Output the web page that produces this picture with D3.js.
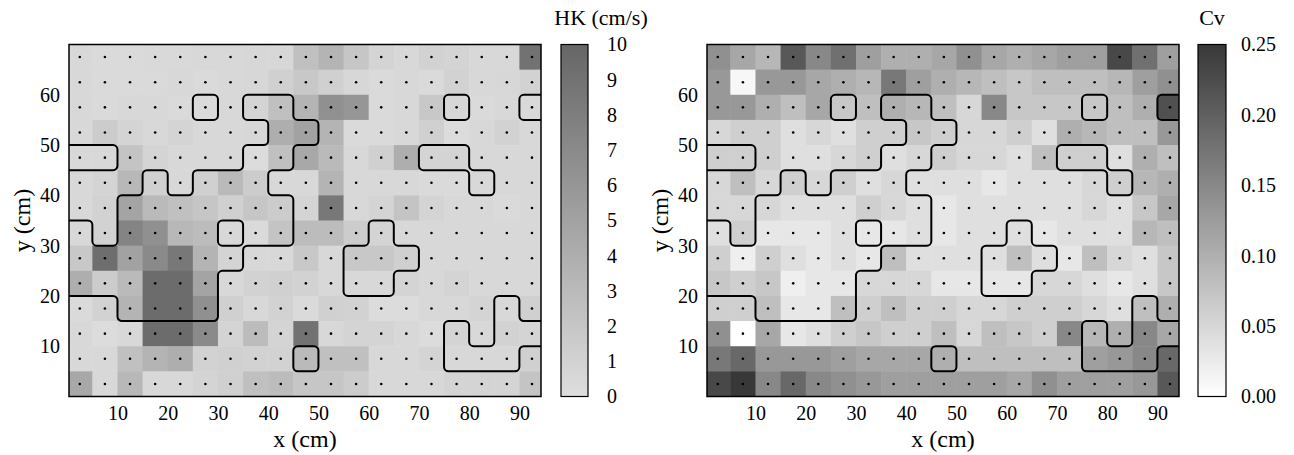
<!DOCTYPE html>
<html>
<head>
<meta charset="utf-8">
<script src="https://cdn.jsdelivr.net/npm/d3@7"></script>
<style>
  body { margin: 0; background: #fff; }
</style>
</head>
<body>
<svg id="chart" width="1294" height="455"></svg>
<script>
// grid: 19 columns x 14 rows of 5 cm cells, rows listed top (65-70 cm) to bottom (0-5 cm)
var nCols = 19, nRows = 14, cellSize = 5;
var serif = '"Liberation Serif", "DejaVu Serif", "Times New Roman", serif';

var xTicks = [10, 20, 30, 40, 50, 60, 70, 80, 90];
var yTicks = [10, 20, 30, 40, 50, 60];
var hkTicks = [0, 1, 2, 3, 4, 5, 6, 7, 8, 9, 10];
var cvTicks = [0, 0.05, 0.10, 0.15, 0.20, 0.25];

var hkRows = [
  [0.5,0.3,0.3,0.4,0.4,0.5,0.5,0.6,0.6,2.5,3.5,2.0,0.8,0.5,1.0,0.8,0.5,0.5,9.0],
  [0.5,0.3,0.3,0.3,0.5,0.3,0.5,0.6,1.2,1.8,1.2,0.6,0.3,0.5,0.3,1.0,0.5,0.6,1.0],
  [0.5,0.3,0.5,0.5,0.3,0.3,0.5,0.8,2.5,3.5,6.5,6.0,0.3,0.5,1.8,0.6,0.3,0.5,0.4],
  [0.5,1.5,0.8,0.5,0.8,0.5,0.5,0.6,4.0,5.0,3.5,0.3,0.3,0.5,1.2,0.2,0.5,1.0,0.5],
  [0.5,0.5,2.2,0.8,0.5,0.5,0.5,0.2,2.5,4.5,3.0,0.5,1.2,4.0,0.8,0.8,0.5,0.5,0.5],
  [0.5,0.8,3.2,1.2,0.5,1.2,3.0,1.5,0.5,0.5,3.5,0.5,0.5,0.5,0.3,0.3,0.5,0.5,0.5],
  [0.5,1.0,4.8,3.0,2.5,2.0,1.2,2.0,1.5,0.8,8.5,0.5,0.8,2.2,0.8,0.5,0.5,0.3,0.5],
  [0.5,1.0,7.5,6.5,3.2,2.8,0.5,0.3,2.2,2.8,2.8,1.5,0.8,0.5,0.5,0.5,0.5,0.5,0.5],
  [1.8,9.3,5.0,7.0,8.5,3.5,0.8,0.5,0.5,1.8,0.5,1.8,1.8,1.2,0.5,0.5,0.5,0.5,0.5],
  [4.0,1.5,3.0,9.5,9.5,4.8,0.5,1.0,1.2,1.0,0.5,0.5,0.5,0.8,0.5,0.8,0.5,0.5,0.5],
  [0.3,1.0,3.5,9.5,9.5,6.5,1.2,0.5,1.0,0.3,1.2,1.0,0.2,0.2,0.5,0.5,0.8,0.5,1.2],
  [0.5,0.2,0.5,9.5,9.5,7.0,0.8,2.8,0.8,9.0,0.5,0.8,0.8,0.5,0.2,0.8,0.5,1.0,0.8],
  [0.5,0.5,2.5,3.5,4.0,1.0,1.2,1.0,1.0,3.0,2.5,2.5,0.5,0.5,0.8,0.5,0.5,0.5,1.2],
  [4.5,0.5,3.2,0.5,0.5,0.8,1.2,2.5,2.8,2.0,2.0,1.5,0.5,0.5,0.5,0.8,0.8,0.8,2.2]
];

var cvRows = [
  [0.14,0.11,0.09,0.21,0.15,0.18,0.12,0.10,0.10,0.11,0.14,0.11,0.10,0.11,0.12,0.12,0.23,0.18,0.12],
  [0.13,0.01,0.13,0.13,0.11,0.10,0.09,0.17,0.12,0.10,0.09,0.08,0.07,0.08,0.08,0.08,0.09,0.12,0.14],
  [0.13,0.13,0.10,0.08,0.11,0.07,0.08,0.10,0.09,0.08,0.05,0.15,0.07,0.07,0.07,0.07,0.08,0.10,0.22],
  [0.05,0.06,0.06,0.04,0.05,0.04,0.06,0.06,0.07,0.06,0.05,0.05,0.06,0.04,0.10,0.09,0.08,0.08,0.13],
  [0.06,0.06,0.06,0.04,0.04,0.05,0.06,0.04,0.05,0.06,0.05,0.05,0.04,0.08,0.06,0.06,0.04,0.10,0.08],
  [0.05,0.08,0.05,0.06,0.05,0.06,0.04,0.05,0.04,0.04,0.04,0.03,0.04,0.04,0.04,0.05,0.06,0.09,0.10],
  [0.05,0.05,0.05,0.04,0.04,0.04,0.06,0.05,0.04,0.03,0.04,0.04,0.04,0.04,0.04,0.05,0.04,0.07,0.11],
  [0.04,0.06,0.03,0.03,0.03,0.04,0.03,0.03,0.04,0.03,0.04,0.04,0.04,0.03,0.04,0.04,0.04,0.09,0.08],
  [0.06,0.02,0.06,0.04,0.03,0.04,0.03,0.08,0.04,0.04,0.04,0.04,0.08,0.04,0.03,0.08,0.05,0.04,0.07],
  [0.07,0.06,0.07,0.02,0.03,0.03,0.05,0.05,0.05,0.03,0.03,0.03,0.03,0.05,0.05,0.04,0.03,0.04,0.07],
  [0.06,0.06,0.08,0.03,0.03,0.08,0.06,0.08,0.06,0.06,0.05,0.05,0.06,0.06,0.06,0.05,0.04,0.08,0.10],
  [0.14,0.00,0.11,0.03,0.04,0.06,0.07,0.06,0.06,0.08,0.05,0.08,0.07,0.06,0.15,0.09,0.10,0.15,0.11],
  [0.17,0.19,0.13,0.13,0.13,0.12,0.11,0.11,0.11,0.10,0.08,0.08,0.08,0.08,0.08,0.12,0.13,0.15,0.19],
  [0.23,0.25,0.15,0.19,0.15,0.14,0.13,0.12,0.12,0.12,0.12,0.12,0.11,0.14,0.12,0.12,0.12,0.13,0.21]
];

// zone outlined by the black lines (same in both maps)
var maskRows = [
  "0000000000000000000",
  "0000000000000000000",
  "0000010110000001001",
  "0000000011000000000",
  "1100000110000011000",
  "0001011100000000100",
  "0011111110000000000",
  "1011110110001000000",
  "1111111000011100000",
  "1111110000011000000",
  "0011110000000000010",
  "0000000000000001011",
  "0000000001000001110",
  "0000000000000000000"
];

var svg = d3.select('#chart');

function maskAt(c, r) {
  return maskRows[nRows - 1 - r].charAt(c);
}

// cell edges where the zone changes, in grid units (k = column edge, j = row edge)
function maskEdges() {
  var edges = [];
  for (var r = 0; r < nRows; r++) {
    for (var c = 0; c < nCols; c++) {
      var m = maskAt(c, r);
      if (c + 1 < nCols && maskAt(c + 1, r) !== m) edges.push([[c + 1, r], [c + 1, r + 1]]);
      if (r + 1 < nRows && maskAt(c, r + 1) !== m) edges.push([[c, r + 1], [c + 1, r + 1]]);
    }
  }
  return edges;
}

// join the edges into polylines
function traceChains(edges) {
  var byVertex = {}, used = [], chains = [];
  edges.forEach(function (e, i) {
    e.forEach(function (v) {
      var key = v.join(',');
      (byVertex[key] = byVertex[key] || []).push(i);
    });
  });
  function other(e, v) {
    return (e[0][0] === v[0] && e[0][1] === v[1]) ? e[1] : e[0];
  }
  function walk(start, ei) {
    var pts = [start], v = start;
    while (ei !== undefined) {
      used[ei] = true;
      var next = other(edges[ei], v);
      var dir = [next[0] - v[0], next[1] - v[1]];
      pts.push(next);
      v = next;
      ei = undefined;
      byVertex[v.join(',')].forEach(function (i) {
        if (used[i]) return;
        var n = other(edges[i], v);
        var straight = (n[0] - v[0] === dir[0]) && (n[1] - v[1] === dir[1]);
        if (ei === undefined || !straight) ei = i;
      });
    }
    return pts;
  }
  Object.keys(byVertex).forEach(function (key) {
    if (byVertex[key].length % 2 === 1) {
      byVertex[key].forEach(function (i) {
        if (!used[i]) chains.push(walk(key.split(',').map(Number), i));
      });
    }
  });
  edges.forEach(function (e, i) {
    if (!used[i]) chains.push(walk(e[0], i));
  });
  return chains;
}

function roundedPath(pts, radius) {
  // drop points that sit in the middle of a straight run
  var clean = [pts[0]];
  for (var i = 1; i < pts.length - 1; i++) {
    var a = clean[clean.length - 1], b = pts[i], c = pts[i + 1];
    var cross = (b[0] - a[0]) * (c[1] - b[1]) - (b[1] - a[1]) * (c[0] - b[0]);
    if (Math.abs(cross) > 1e-6) clean.push(b);
  }
  clean.push(pts[pts.length - 1]);

  var p = d3.path();
  var first = clean[0], last = clean[clean.length - 1];
  var closed = Math.abs(first[0] - last[0]) < 1e-6 && Math.abs(first[1] - last[1]) < 1e-6;
  if (closed) {
    var ring = clean.slice(0, -1), n = ring.length;
    p.moveTo((ring[0][0] + ring[1][0]) / 2, (ring[0][1] + ring[1][1]) / 2);
    for (var k = 1; k <= n; k++) {
      var cur = ring[k % n], nxt = ring[(k + 1) % n];
      p.arcTo(cur[0], cur[1], nxt[0], nxt[1], radius);
    }
    p.closePath();
  } else {
    p.moveTo(first[0], first[1]);
    for (var m = 1; m < clean.length - 1; m++) {
      p.arcTo(clean[m][0], clean[m][1], clean[m + 1][0], clean[m + 1][1], radius);
    }
    p.lineTo(last[0], last[1]);
  }
  return p.toString();
}

var chains = traceChains(maskEdges());

function drawPanel(o) {
  var g = svg.append('g');

  var x = d3.scaleLinear().domain([0.35, 94.3]).range([o.left, o.left + 472]);
  var y = d3.scaleLinear().domain([0, 70]).range([396.5, 44.5]);
  var x0 = x.range()[0], x1 = x.range()[1], yTop = y.range()[1], yBot = y.range()[0];

  g.append('clipPath').attr('id', o.id + '-clip')
    .append('rect')
    .attr('x', x0).attr('y', yTop)
    .attr('width', x1 - x0).attr('height', yBot - yTop);

  var cells = [];
  o.rows.forEach(function (row, i) {
    row.forEach(function (v, c) {
      cells.push({ c: c, r: nRows - 1 - i, v: v });
    });
  });

  var body = g.append('g').attr('clip-path', 'url(#' + o.id + '-clip)');

  body.selectAll('rect.cell')
    .data(cells)
    .enter().append('rect')
    .attr('class', 'cell')
    .attr('x', function (d) { return x(d.c * cellSize); })
    .attr('y', function (d) { return y((d.r + 1) * cellSize); })
    .attr('width', function (d) { return x((d.c + 1) * cellSize) - x(d.c * cellSize) + 0.5; })
    .attr('height', function (d) { return y(d.r * cellSize) - y((d.r + 1) * cellSize) + 0.5; })
    .attr('fill', function (d) { return o.color(d.v); });

  body.selectAll('circle.pt')
    .data(cells)
    .enter().append('circle')
    .attr('class', 'pt')
    .attr('cx', function (d) { return x((d.c + 0.5) * cellSize); })
    .attr('cy', function (d) { return y((d.r + 0.5) * cellSize); })
    .attr('r', 1.3)
    .attr('fill', '#000');

  // zone outline
  var clampX = function (k) { return Math.max(x0, Math.min(x1, x(k * cellSize))); };
  var clampY = function (j) { return Math.max(yTop, Math.min(yBot, y(j * cellSize))); };
  body.selectAll('path.zone')
    .data(chains)
    .enter().append('path')
    .attr('class', 'zone')
    .attr('d', function (ch) {
      return roundedPath(ch.map(function (v) { return [clampX(v[0]), clampY(v[1])]; }), 4.5);
    })
    .attr('fill', 'none')
    .attr('stroke', '#000')
    .attr('stroke-width', 2);

  g.append('rect')
    .attr('x', x0).attr('y', yTop)
    .attr('width', x1 - x0).attr('height', yBot - yTop)
    .attr('fill', 'none').attr('stroke', '#000').attr('stroke-width', 1.5);

  // axes
  var xAxis = g.append('g')
    .attr('transform', 'translate(0,' + yBot + ')')
    .call(d3.axisBottom(x).tickValues(xTicks).tickSize(0).tickPadding(9));
  var yAxis = g.append('g')
    .attr('transform', 'translate(' + x0 + ',0)')
    .call(d3.axisLeft(y).tickValues(yTicks).tickSize(0).tickPadding(9));
  [xAxis, yAxis].forEach(function (a) {
    a.select('.domain').remove();
    a.attr('font-family', null).attr('font-size', null);
    a.selectAll('text').style('font-family', serif).style('font-size', '20px');
  });

  g.append('text')
    .attr('x', (x0 + x1) / 2).attr('y', 447)
    .attr('text-anchor', 'middle')
    .style('font-family', serif).style('font-size', '24px')
    .text('x (cm)');
  g.append('text')
    .attr('transform', 'translate(' + (x0 - 39) + ',' + ((yTop + yBot) / 2) + ') rotate(-90)')
    .attr('text-anchor', 'middle')
    .style('font-family', serif).style('font-size', '24px')
    .text('y (cm)');

  // colour bar
  var grad = svg.append('defs').append('linearGradient')
    .attr('id', o.id + '-grad')
    .attr('x1', 0).attr('y1', 1).attr('x2', 0).attr('y2', 0);
  d3.range(0, 1.0001, 0.1).forEach(function (t) {
    grad.append('stop')
      .attr('offset', t)
      .attr('stop-color', o.color(o.domain[0] + t * (o.domain[1] - o.domain[0])));
  });

  var cb = d3.scaleLinear().domain(o.domain).range([yBot, yTop]);
  g.append('rect')
    .attr('x', o.cbLeft).attr('y', yTop)
    .attr('width', o.cbWidth).attr('height', yBot - yTop)
    .attr('fill', 'url(#' + o.id + '-grad)')
    .attr('stroke', '#000').attr('stroke-width', 1.2);

  var cbAxis = g.append('g')
    .attr('transform', 'translate(' + (o.cbLeft + o.cbWidth) + ',0)')
    .call(d3.axisRight(cb).tickValues(o.ticks).tickFormat(o.format).tickSize(0).tickPadding(o.cbPad));
  cbAxis.select('.domain').remove();
  cbAxis.attr('font-family', null).attr('font-size', null);
  cbAxis.selectAll('text').style('font-family', serif).style('font-size', '20px');

  g.append('text')
    .attr('x', o.titleX).attr('y', 25)
    .attr('text-anchor', 'middle')
    .style('font-family', serif).style('font-size', '22px')
    .text(o.title);
}

drawPanel({
  id: 'hk', left: 69, rows: hkRows,
  color: d3.scaleLinear().domain([0, 10]).range(['#dedede', '#666666']).clamp(true),
  domain: [0, 10], ticks: hkTicks, format: d3.format('d'),
  cbLeft: 561, cbWidth: 27, cbPad: 19,
  title: 'HK (cm/s)', titleX: 601
});

drawPanel({
  id: 'cv', left: 707, rows: cvRows,
  color: d3.scaleLinear().domain([0, 0.25]).range(['#ffffff', '#383838']).clamp(true),
  domain: [0, 0.25], ticks: cvTicks, format: d3.format('.2f'),
  cbLeft: 1198, cbWidth: 28, cbPad: 15,
  title: 'Cv', titleX: 1212
});
</script>
</body>
</html>
